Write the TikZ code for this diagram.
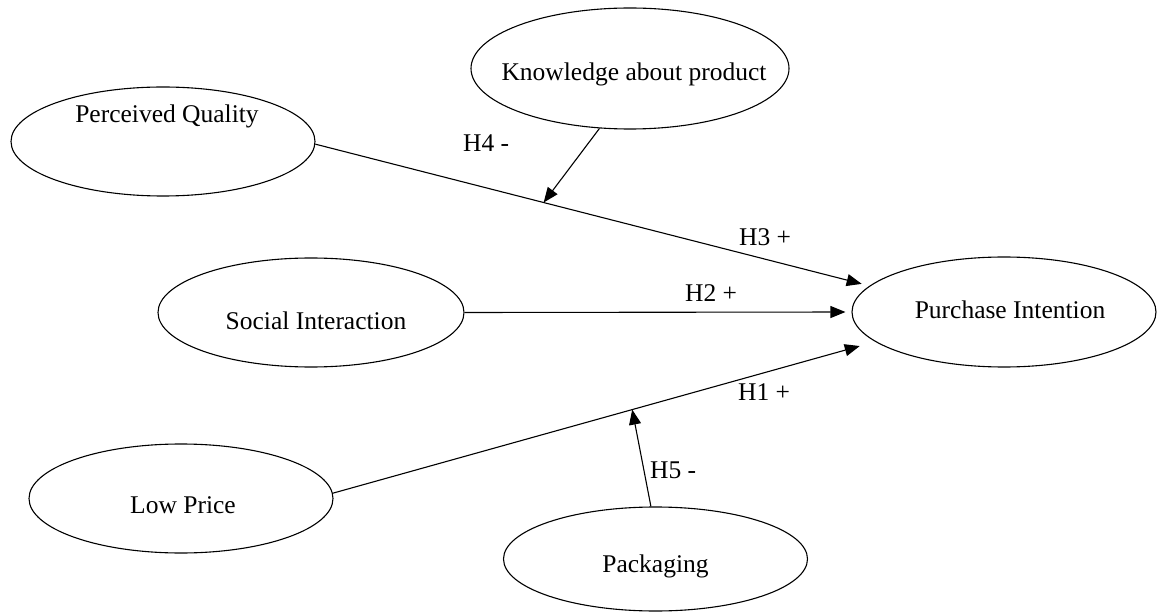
\documentclass[tikz,border=0pt]{standalone}
\usepackage{fontspec}
\setmainfont{Liberation Serif}
\usetikzlibrary{arrows.meta,shapes.geometric}
\begin{document}
\begin{tikzpicture}[x=1pt,y=-1pt,
  oval/.style={draw=black, line width=1.1pt, ellipse, inner sep=0pt,
    minimum width=304pt, minimum height=109pt, text depth=0pt,
    font=\fontsize{25.5}{30}\selectfont},
  hyp/.style={font=\fontsize{25.5}{30}\selectfont, inner sep=0pt, anchor=base west},
  link/.style={draw=black, line width=1.1pt, -{Triangle[length=15pt,width=12pt]}}]
\useasboundingbox (0,0) rectangle (1157,612);
% constructs
\node[oval, minimum width=318pt, minimum height=121pt, text height=24pt] (kp) at (630,68.5)
  {\makebox[0pt]{\hspace*{8pt}Knowledge about product}};
\node[oval, text height=0pt, text depth=37pt] (pq) at (163,141.5)
  {\makebox[0pt]{\hspace*{8pt}Perceived Quality}};
\node[oval, minimum width=306pt, text height=35pt] (si) at (311,312.5)
  {\makebox[0pt]{\hspace*{10pt}Social Interaction}};
\node[oval, minimum height=110pt, text height=14pt] (pi) at (1004,312)
  {\makebox[0pt]{\hspace*{12pt}Purchase Intention}};
\node[oval, text height=29pt] (lp) at (181,498.5)
  {\makebox[0pt]{\hspace*{4pt}Low Price}};
\node[oval, minimum height=104pt, text height=26pt] (pk) at (655.5,559)
  {\makebox[0pt]{Packaging}};
% points on paths where moderators hit
\path (pq.-1.3) -- (pi.169.4) coordinate[pos=0.412] (m4);
\path (lp.2) -- (pi.193.4) coordinate[pos=0.552] (m5);
% direct effects
\draw[link, shorten >=8pt] (pq.-1.3) -- (pi.169.4);
\draw[link, shorten >=6pt] (si.east) -- (pi.west);
\draw[link, shorten >=16pt] (lp.2) -- (pi.193.4);
% moderators
\draw[link] (kp.243.6) -- (m4);
\draw[link] (pk.95.9) -- (m5);
% hypothesis labels
\node[hyp] (h4) at (463,152) {H4 -};
\node[hyp] (h3) at (739,246) {H3 +};
\node[hyp] (h2) at (685,302) {H2 +};
\node[hyp] (h1) at (738,400) {H1 +};
\node[hyp] (h5) at (650,478) {H5 -};
\end{tikzpicture}
\end{document}
